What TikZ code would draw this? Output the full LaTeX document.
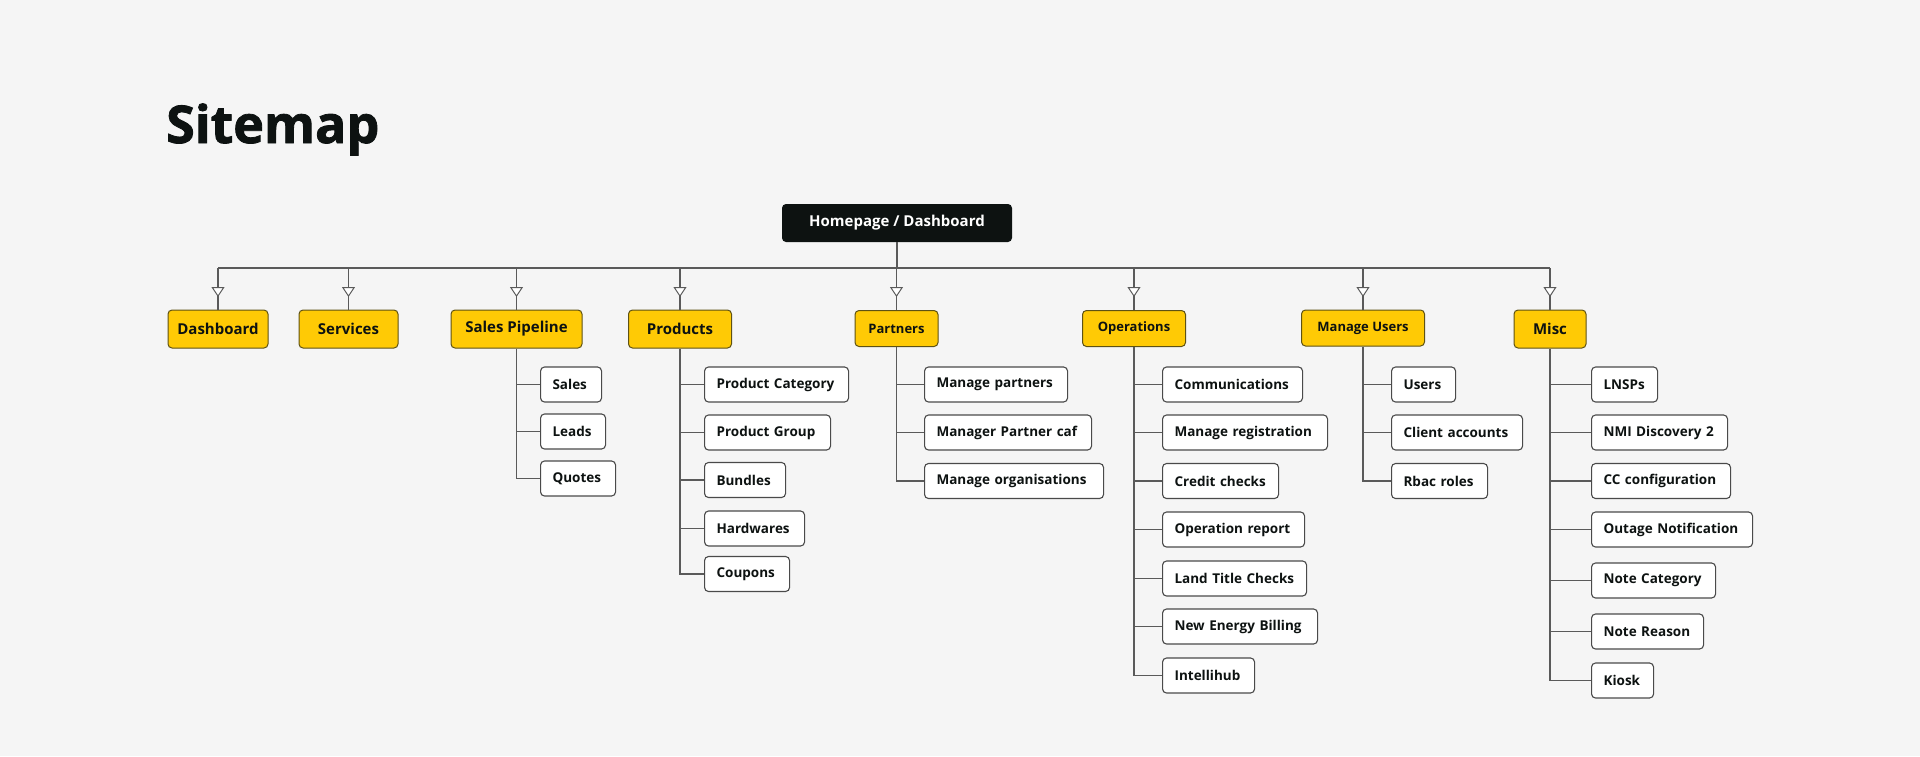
\documentclass[tikz,border=0pt]{standalone}
\usepackage{fontspec}
\setmainfont{Open Sans}
\newfontfamily\heavyfont{Open Sans}[BoldFeatures={FakeBold=1.6}]
\usetikzlibrary{%
  arrows.meta,
  decorations.markings,
  positioning
}
\definecolor{canvas}{HTML}{F5F5F5}
\definecolor{sectyellow}{HTML}{FFCA05}
\definecolor{sectborder}{HTML}{5E5214}
\definecolor{homeblack}{HTML}{0D1211}
\definecolor{wiregray}{HTML}{5A5A5A}
\definecolor{pageborder}{HTML}{4A4A4A}
\tikzset{>=Stealth}

\begin{document}
\begin{tikzpicture}[x=1pt,y=-1pt]
      \tikzset{wire/.style = {draw=wiregray,line width=1.2pt}}
      \tikzset{drop/.style = {wire,postaction={decorate},
          decoration={markings,mark=at position 29pt with
            {\arrow{Triangle[fill=white,width=13pt,length=10pt,line width=1pt]}}}}}
      \tikzset{sect/.style = {draw=sectborder,fill=sectyellow,line width=1pt,
          rounded corners=4pt,minimum height=38pt,inner sep=0pt,text=homeblack,
          font=\fontsize{15}{18}\selectfont\bfseries}}
      \tikzset{sectsm/.style = {sect,minimum height=36pt,
          font=\fontsize{13}{16}\selectfont\bfseries}}
      \tikzset{page/.style = {draw=pageborder,fill=white,line width=1.1pt,
          rounded corners=4pt,minimum height=35pt,inner xsep=12pt,inner ysep=0pt,
          anchor=west,align=left,text=homeblack,
          font=\fontsize{13.5}{16}\selectfont\bfseries}}
      \tikzset{home/.style = {fill=homeblack,rounded corners=4pt,minimum width=230pt,
          minimum height=38pt,text=white,font=\fontsize{15}{18}\selectfont\bfseries}}

      \useasboundingbox[fill=canvas] (0,0) rectangle (1920,756);

      \node[anchor=base west,inner sep=0pt,text=homeblack,
        font=\heavyfont\fontsize{52}{60}\selectfont\bfseries] (title) at (166,143) {Sitemap};

      \node[home] (home) at (897,223) {Homepage / Dashboard};

      % sections
      \node[sect,minimum width=100pt] (dash) at (218,329) {Dashboard};
      \node[sect,minimum width=99pt] (serv) at (348.5,329) {Services};
      \node[sect,minimum width=131pt] (pipe) at (516.5,329) {Sales Pipeline};
      \node[sect,minimum width=103pt] (prod) at (680,329) {Products};
      \node[sectsm,minimum width=83pt] (part) at (896.5,328.5) {Partners};
      \node[sectsm,minimum width=103pt] (ops) at (1134,328.5) {Operations};
      \node[sectsm,minimum width=123pt] (users) at (1363,328) {Manage Users};
      \node[sect,minimum width=72pt] (misc) at (1550,329) {Misc};

      \coordinate (bus) at (897,268);
      \draw[wire] (home.south) -- (bus);
      \draw[wire] (dash.north |- bus) -- (misc.north |- bus);
      \foreach \s in {dash,serv,pipe,prod,part,ops,users,misc}
        \draw[drop] (\s.north |- bus) -- (\s.north);

      % pages
      \foreach \up/\lx/\nm/\yy/\ww/\txt in {
          pipe/540/sales/384.5/61/Sales,
          pipe/540/leads/431.5/65/Leads,
          pipe/540/quotes/478.5/75/Quotes,
          prod/704/pcat/384.5/144/Product Category,
          prod/704/pgrp/432.5/126/Product Group,
          prod/704/bund/480/81/Bundles,
          prod/704/hard/528.5/100/Hardwares,
          prod/704/coup/574/85/Coupons,
          part/924/mpart/384.5/143/Manage partners,
          part/924/mcaf/432.5/167/Manager Partner caf,
          part/924/morg/481/179/Manage organisations,
          ops/1162/comm/384.5/140/Communications,
          ops/1162/mreg/432.5/165/Manage registration,
          ops/1162/cred/481/116/Credit checks,
          ops/1162/orep/529.5/142/Operation report,
          ops/1162/land/578.5/144/Land Title Checks,
          ops/1162/neb/626.5/155/New Energy Billing,
          ops/1162/ihub/675.5/92/Intellihub,
          users/1391/usr/384.5/64/Users,
          users/1391/client/432.5/131/Client accounts,
          users/1391/rbac/481/96/Rbac roles,
          misc/1591/lnsp/384.5/66/LNSPs,
          misc/1591/nmi/432.5/136/NMI Discovery 2,
          misc/1591/cc/481/139/CC configuration,
          misc/1591/outage/529.5/161/Outage Notification,
          misc/1591/ncat/580.5/124/Note Category,
          misc/1591/nrsn/631.5/112/Note Reason,
          misc/1591/kiosk/680.5/62/Kiosk}
      {
        \pgfmathsetmacro\tw{\ww-24}
        \node[page,text width=\tw pt] (\nm) at (\lx,\yy) {\txt};
        \draw[wire] (\up.south |- \nm.west) -- (\nm.west);
      }

      \draw[wire] (pipe.south) |- (quotes.west);
      \draw[wire] (prod.south) |- (coup.west);
      \draw[wire] (part.south) |- (morg.west);
      \draw[wire] (ops.south) |- (ihub.west);
      \draw[wire] (users.south) |- (rbac.west);
      \draw[wire] (misc.south) |- (kiosk.west);
\end{tikzpicture}
\end{document}
